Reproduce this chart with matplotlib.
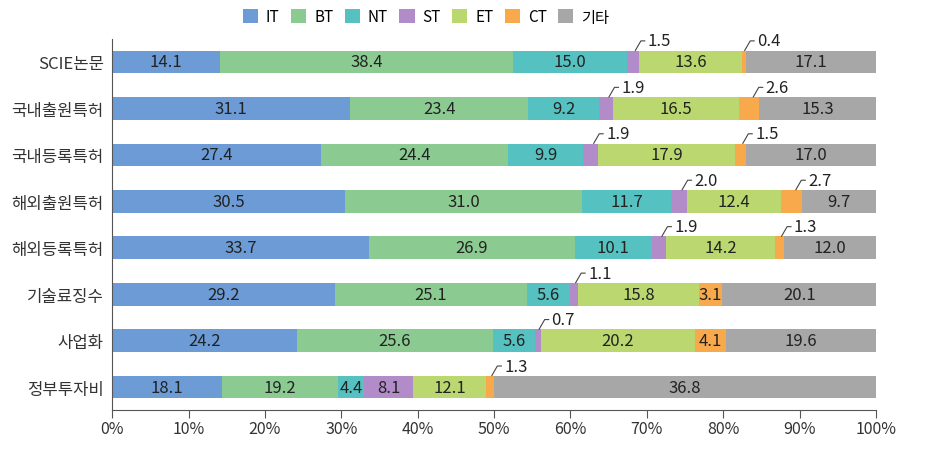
import matplotlib
matplotlib.use("Agg")
import matplotlib.pyplot as plt
import numpy as np

plt.rcParams['font.family'] = ['Noto Sans CJK KR', 'DejaVu Sans']

categories = ['SCIE논문', '국내출원특허', '국내등록특허', '해외출원특허',
              '해외등록특허', '기술료징수', '사업화', '정부투자비']
series = ['IT', 'BT', 'NT', 'ST', 'ET', 'CT', '기타']
colors = ['#6c9bd6', '#8bcb92', '#55c1c1', '#b28bc9', '#bad86f', '#f7a94c', '#a7a7a7']

it_vals = [14.1, 31.1, 27.4, 30.5, 33.7, 29.2, 24.2, 18.1]
bt_vals = [38.4, 23.4, 24.4, 31.0, 26.9, 25.1, 25.6, 19.2]
nt_vals = [15.0, 9.2, 9.9, 11.7, 10.1, 5.6, 5.6, 4.4]
st_vals = [1.5, 1.9, 1.9, 2.0, 1.9, 1.1, 0.7, 8.1]
et_vals = [13.6, 16.5, 17.9, 12.4, 14.2, 15.8, 20.2, 12.1]
ct_vals = [0.4, 2.6, 1.5, 2.7, 1.3, 3.1, 4.1, 1.3]
etc_vals = [17.1, 15.3, 17.0, 9.7, 12.0, 20.1, 19.6, 36.8]
# the grey bar of the last row is drawn at 63.2 in the original chart (label says 36.8)
etc_bar_vals = [17.1, 15.3, 17.0, 9.7, 12.0, 20.1, 19.6, 63.2]

labels = np.array([it_vals, bt_vals, nt_vals, st_vals, et_vals, ct_vals, etc_vals])
data = np.array([it_vals, bt_vals, nt_vals, st_vals, et_vals, ct_vals, etc_bar_vals])
# shares of each row (100% stacked)
shares = data / data.sum(axis=0) * 100

fig = plt.figure(figsize=(9.27, 4.52), dpi=100)
ax = fig.add_axes([0.121, 0.091, 0.824, 0.821])

y = np.arange(len(categories))
h = 0.49
left = np.zeros(len(categories))
handles = []
for i, name in enumerate(series):
    b = ax.barh(y, shares[i], left=left, height=h, color=colors[i], label=name)
    handles.append(b)
    for j in range(len(categories)):
        v = labels[i, j]
        mid = left[j] + shares[i, j] / 2
        txt = f'{v:.1f}'
        if v < 3.0 and name in ('ST', 'CT'):
            # small segments get a callout above the bar
            ax.annotate(txt, xy=(mid + shares[i, j] * 0.2, y[j] - h / 2),
                        xytext=(9, 7), textcoords='offset points',
                        ha='left', va='center', fontsize=12, color='#222222',
                        arrowprops=dict(arrowstyle='-', color='#444444', lw=0.8,
                                        shrinkA=0, shrinkB=0, relpos=(0, 0.5),
                                        connectionstyle='angle,angleA=0,angleB=60,rad=0'))
        else:
            ax.text(mid, y[j], txt, ha='center', va='center', fontsize=12, color='#222222')
    left += shares[i]

ax.set_xlim(0, 100)
ax.set_ylim(7.49, -0.5)
ax.set_yticks(y)
ax.set_yticklabels(categories, fontsize=12, color='#333333')
ax.tick_params(axis='y', length=0, pad=6)
ax.set_xticks(np.arange(0, 101, 10))
ax.set_xticklabels([f'{t}%' for t in range(0, 101, 10)], fontsize=11.5, color='#333333')
ax.tick_params(axis='x', length=6, color='#555555', pad=1)
for s in ['top', 'right']:
    ax.spines[s].set_visible(False)
ax.spines['left'].set_color('#555555')
ax.spines['bottom'].set_color('#555555')

fig.legend(handles=handles, labels=series, loc='center', ncol=7,
           bbox_to_anchor=(426 / 927, 1 - 18 / 452), frameon=False,
           fontsize=11, handlelength=1.0, handleheight=1.0,
           handletextpad=0.5, columnspacing=0.75)

fig.savefig('out.png', dpi=100)
